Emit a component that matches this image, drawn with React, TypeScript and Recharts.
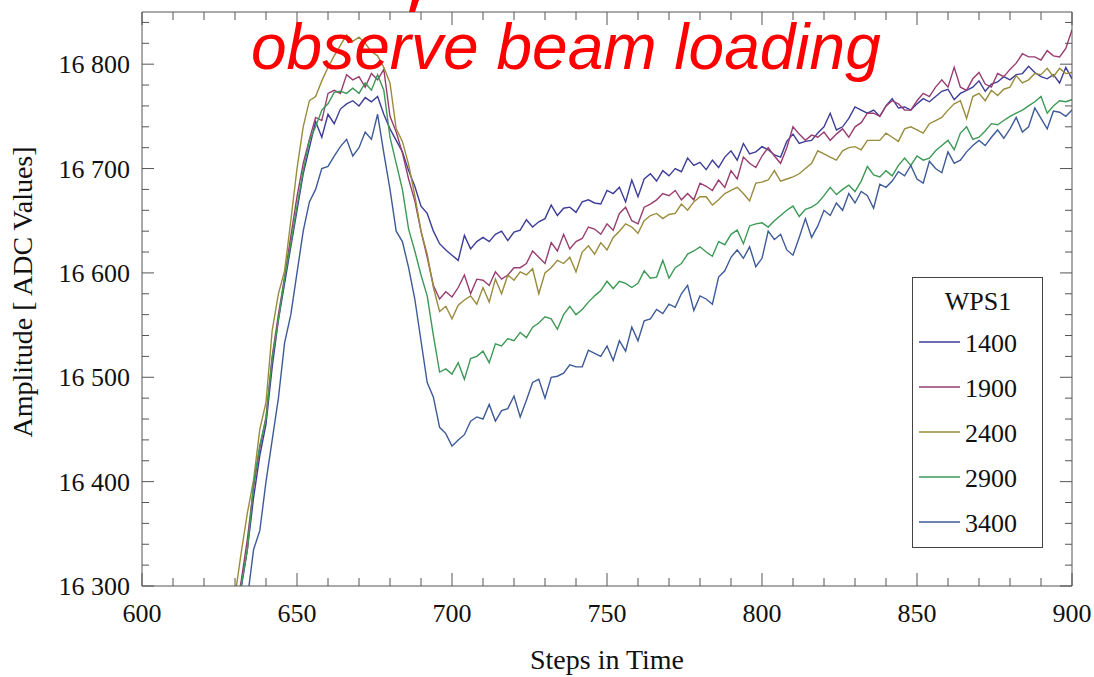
import React from "react";
import { LineChart, Line, XAxis, YAxis, Legend } from "recharts";

// steps in time, every second sample from 630 to 900
const STEPS = Array.from({ length: 136 }, (_, i) => 630 + 2 * i);

const WPS_1400 = [
  16265, 16298, 16335, 16385, 16425,
  16455, 16510, 16555, 16590, 16625,
  16660, 16695, 16720, 16745, 16730,
  16752, 16743, 16757, 16762, 16765,
  16760, 16768, 16764, 16769, 16752,
  16738, 16727, 16716, 16698, 16683,
  16664, 16657, 16640, 16628, 16622,
  16617, 16612, 16636, 16623, 16630,
  16634, 16630, 16637, 16640, 16631,
  16639, 16641, 16651, 16644, 16649,
  16652, 16665, 16655, 16662, 16663,
  16658, 16668, 16670, 16667, 16666,
  16679, 16676, 16682, 16668, 16689,
  16673, 16690, 16695, 16688, 16698,
  16693, 16700, 16697, 16710, 16703,
  16706, 16699, 16708, 16701, 16711,
  16717, 16708, 16724, 16714, 16716,
  16721, 16718, 16713, 16711, 16726,
  16733, 16724, 16726, 16727, 16734,
  16740, 16753, 16737, 16740, 16748,
  16759, 16756, 16753, 16756, 16750,
  16760, 16767, 16758, 16759, 16756,
  16762, 16767, 16764, 16769, 16774,
  16776, 16766, 16772, 16775, 16778,
  16784, 16774, 16781, 16783, 16788,
  16785, 16790, 16791, 16798, 16792,
  16788, 16786, 16790, 16782, 16797,
  16786,
];

const WPS_1900 = [
  16270, 16305, 16345, 16395, 16432,
  16462, 16520, 16560, 16596, 16635,
  16673, 16705, 16728, 16749, 16746,
  16772, 16775, 16772, 16790, 16785,
  16788, 16778, 16791, 16785, 16795,
  16750, 16735, 16715, 16690, 16669,
  16640, 16615, 16588, 16575, 16582,
  16577, 16586, 16598, 16580, 16594,
  16593, 16588, 16601, 16594, 16598,
  16605, 16605, 16609, 16621, 16615,
  16609, 16629, 16621, 16637, 16623,
  16630, 16633, 16644, 16642, 16637,
  16647, 16641, 16657, 16663, 16650,
  16647, 16663, 16666, 16670, 16676,
  16674, 16679, 16670, 16676, 16670,
  16686, 16683, 16679, 16689, 16682,
  16698, 16690, 16711, 16705, 16701,
  16712, 16720, 16712, 16705, 16720,
  16740, 16733, 16727, 16732, 16730,
  16735, 16727, 16733, 16738, 16730,
  16740, 16744, 16753, 16753, 16750,
  16760, 16765, 16762, 16756, 16756,
  16765, 16772, 16769, 16778, 16785,
  16778, 16797, 16778, 16775, 16786,
  16792, 16781, 16778, 16791, 16788,
  16795, 16801, 16810, 16807, 16807,
  16804, 16813, 16808, 16807, 16815,
  16833,
];

const WPS_2400 = [
  16290, 16332, 16370, 16402, 16450,
  16476, 16545, 16580, 16602, 16650,
  16700, 16740, 16765, 16769, 16784,
  16797, 16808, 16818, 16828, 16822,
  16826, 16820, 16812, 16808, 16797,
  16782, 16738, 16726, 16704, 16674,
  16640, 16618, 16586, 16563, 16568,
  16556, 16569, 16574, 16578, 16570,
  16586, 16572, 16594, 16580, 16598,
  16593, 16601, 16598, 16604, 16580,
  16600, 16605, 16612, 16609, 16615,
  16601, 16620, 16626, 16618, 16629,
  16622, 16634, 16640, 16647, 16644,
  16638, 16650, 16655, 16657, 16652,
  16656, 16657, 16666, 16660, 16668,
  16673, 16673, 16665, 16670, 16676,
  16679, 16682, 16676, 16669, 16686,
  16687, 16689, 16698, 16688, 16690,
  16692, 16695, 16700, 16705, 16717,
  16714, 16711, 16708, 16717, 16720,
  16721, 16718, 16727, 16727, 16727,
  16734, 16730, 16726, 16738, 16740,
  16737, 16734, 16743, 16746, 16749,
  16756, 16762, 16765, 16748, 16769,
  16772, 16765, 16775, 16770, 16776,
  16778, 16789, 16782, 16785, 16791,
  16790, 16796, 16788, 16796, 16791,
  16792,
];

const WPS_2900 = [
  16275, 16300, 16335, 16398, 16435,
  16460, 16518, 16555, 16595, 16628,
  16664, 16698, 16727, 16740, 16756,
  16762, 16773, 16774, 16772, 16777,
  16772, 16782, 16775, 16790, 16775,
  16730, 16705, 16680, 16642, 16621,
  16598, 16578, 16540, 16505, 16508,
  16503, 16514, 16498, 16518, 16520,
  16525, 16514, 16532, 16530, 16537,
  16535, 16543, 16538, 16548, 16552,
  16558, 16556, 16546, 16560, 16568,
  16560, 16565, 16572, 16578, 16583,
  16592, 16585, 16592, 16590, 16586,
  16590, 16602, 16595, 16596, 16612,
  16595, 16605, 16609, 16618, 16621,
  16625, 16620, 16616, 16630, 16627,
  16637, 16641, 16628, 16645, 16647,
  16648, 16644, 16650, 16655, 16660,
  16664, 16654, 16661, 16663, 16667,
  16674, 16682, 16675, 16680, 16684,
  16678, 16688, 16702, 16694, 16692,
  16698, 16693, 16703, 16710, 16703,
  16712, 16708, 16710, 16717, 16722,
  16727, 16718, 16734, 16740, 16728,
  16730, 16736, 16743, 16742, 16746,
  16750, 16753, 16756, 16760, 16764,
  16769, 16753, 16760, 16765, 16764,
  16766,
];

const WPS_3400 = [
  16240, 16265, 16288, 16335, 16353,
  16400, 16440, 16480, 16533, 16560,
  16600, 16640, 16668, 16680, 16700,
  16702, 16712, 16721, 16728, 16712,
  16720, 16735, 16728, 16752, 16715,
  16680, 16640, 16630, 16605, 16575,
  16535, 16495, 16481, 16452, 16446,
  16434, 16440, 16445, 16458, 16462,
  16460, 16474, 16458, 16468, 16470,
  16482, 16462, 16478, 16495, 16498,
  16480, 16500, 16501, 16504, 16512,
  16510, 16510, 16526, 16523, 16520,
  16530, 16516, 16535, 16525, 16548,
  16535, 16554, 16556, 16565, 16561,
  16570, 16567, 16580, 16588, 16564,
  16578, 16575, 16570, 16596, 16602,
  16615, 16622, 16614, 16625, 16606,
  16614, 16640, 16632, 16637, 16622,
  16617, 16634, 16652, 16634, 16645,
  16660, 16655, 16667, 16660, 16676,
  16667, 16678, 16674, 16662, 16685,
  16682, 16688, 16697, 16693, 16703,
  16690, 16686, 16707, 16700, 16696,
  16716, 16705, 16708, 16716, 16722,
  16727, 16722, 16730, 16737, 16729,
  16738, 16749, 16735, 16740, 16758,
  16748, 16738, 16755, 16754, 16750,
  16756,
];

const SERIES = [
  { key: "w1400", name: "1400", color: "#3d3d99", values: WPS_1400 },
  { key: "w1900", name: "1900", color: "#993d71", values: WPS_1900 },
  { key: "w2400", name: "2400", color: "#998c3d", values: WPS_2400 },
  { key: "w2900", name: "2900", color: "#3d9956", values: WPS_2900 },
  { key: "w3400", name: "3400", color: "#3d5a99", values: WPS_3400 },
];

const X_TICKS = Array.from({ length: 31 }, (_, i) => 600 + 10 * i);
const Y_TICKS = Array.from({ length: 28 }, (_, i) => 16300 + 20 * i);

const data = STEPS.map((step, i) => {
  const row: Record<string, number> = { step };
  SERIES.forEach((s) => (row[s.key] = s.values[i]));
  return row;
});

const FRAME = "#555";
const SERIF = "'Liberation Serif', 'Times New Roman', serif";

const fmt = (v: number) => {
  const s = String(v);
  return s.length > 3 ? s.slice(0, -3) + " " + s.slice(-3) : s;
};

function BottomTick({ x, y, payload }: any) {
  const major = payload.value % 50 === 0;
  return (
    <g>
      <line x1={x} x2={x} y1={y} y2={y - (major ? 13 : 8)} stroke={FRAME} />
      {major && (
        <text x={x} y={y + 36} textAnchor="middle" fontSize={26} fontFamily={SERIF} fill="#111">
          {payload.value}
        </text>
      )}
    </g>
  );
}

function TopTick({ x, y, payload }: any) {
  const major = payload.value % 50 === 0;
  return <line x1={x} x2={x} y1={y} y2={y + (major ? 13 : 8)} stroke={FRAME} />;
}

function LeftTick({ x, y, payload }: any) {
  const major = payload.value % 100 === 0;
  const ax = x + 12;
  return (
    <g>
      <line x1={ax} x2={ax + (major ? 12 : 7)} y1={y} y2={y} stroke={FRAME} />
      {major && (
        <text x={x} y={y + 9} textAnchor="end" fontSize={26} fontFamily={SERIF} fill="#111">
          {fmt(payload.value)}
        </text>
      )}
    </g>
  );
}

function RightTick({ x, y, payload }: any) {
  const major = payload.value % 100 === 0;
  return <line x1={x} x2={x - (major ? 12 : 7)} y1={y} y2={y} stroke={FRAME} />;
}

function XTitle() {
  return (
    <text x={607} y={669} textAnchor="middle" fontSize={28} fontFamily={SERIF} fill="#111">
      Steps in Time
    </text>
  );
}

function YTitle() {
  return (
    <text
      transform="translate(32, 292) rotate(-90)"
      textAnchor="middle"
      fontSize={28}
      fontFamily={SERIF}
      fill="#111"
    >
      Amplitude [ ADC Values]
    </text>
  );
}

function LegendBox({ payload }: any) {
  return (
    <svg width={131} height={271} style={{ display: "block" }}>
      <rect x={0.5} y={0.5} width={130} height={270} fill="#fff" stroke="#444" />
      <text x={66} y={33} textAnchor="middle" fontSize={26} fontFamily={SERIF} fill="#111">
        WPS1
      </text>
      {(payload || []).map((p: any, i: number) => {
        const ly = 65 + 45 * i;
        return (
          <g key={p.value}>
            <line x1={7} x2={48} y1={ly} y2={ly} stroke={p.color} strokeWidth={1.3} />
            <text x={53} y={ly + 10} fontSize={26} fontFamily={SERIF} fill="#111">
              {p.value}
            </text>
          </g>
        );
      })}
    </svg>
  );
}

export default function App() {
  return (
    <div style={{ position: "absolute", left: 0, top: 0, width: 1094, height: 677, background: "#fff" }}>
      <LineChart width={1094} height={677} data={data} margin={{ top: 0, right: 0, bottom: 0, left: 0 }}>
        <XAxis
          dataKey="step"
          type="number"
          domain={[600, 900]}
          ticks={X_TICKS}
          interval={0}
          allowDataOverflow
          height={91}
          tickSize={0}
          tickMargin={0}
          tickLine={false}
          axisLine={{ stroke: FRAME }}
          tick={<BottomTick />}
          label={<XTitle />}
        />
        <XAxis
          xAxisId="top"
          orientation="top"
          dataKey="step"
          type="number"
          domain={[600, 900]}
          ticks={X_TICKS}
          interval={0}
          allowDataOverflow
          height={12}
          tickSize={0}
          tickMargin={0}
          tickLine={false}
          axisLine={{ stroke: FRAME }}
          tick={<TopTick />}
        />
        <YAxis
          type="number"
          domain={[16300, 16850]}
          ticks={Y_TICKS}
          interval={0}
          allowDataOverflow
          width={142}
          tickSize={0}
          tickMargin={12}
          tickLine={false}
          axisLine={{ stroke: FRAME }}
          tick={<LeftTick />}
          label={<YTitle />}
        />
        <YAxis
          yAxisId="right"
          orientation="right"
          type="number"
          domain={[16300, 16850]}
          ticks={Y_TICKS}
          interval={0}
          allowDataOverflow
          width={22}
          tickSize={0}
          tickMargin={0}
          tickLine={false}
          axisLine={{ stroke: FRAME }}
          tick={<RightTick />}
        />
        {SERIES.map((s) => (
          <Line
            key={s.key}
            type="linear"
            dataKey={s.key}
            name={s.name}
            stroke={s.color}
            strokeWidth={1.4}
            dot={false}
            isAnimationActive={false}
          />
        ))}
        <Legend
          layout="horizontal"
          verticalAlign="middle"
          align="center"
          content={<LegendBox />}
          wrapperStyle={{ left: 912, top: 277, width: 131, height: 271 }}
        />
      </LineChart>
      {/* remnant of a cut-off heading line above the slide title */}
      <svg style={{ position: "absolute", left: 0, top: 0 }} width={1094} height={20}>
        <polygon points="412,0 419,0 415,12 409,12" fill="#ff0000" />
      </svg>
      <div
        style={{
          position: "absolute",
          left: 251,
          top: 15,
          fontFamily: "'Liberation Sans', Arial, sans-serif",
          fontStyle: "italic",
          fontSize: 64,
          lineHeight: "64px",
          color: "#ff0000",
          whiteSpace: "nowrap",
        }}
      >
        observe beam loading
      </div>
    </div>
  );
}
